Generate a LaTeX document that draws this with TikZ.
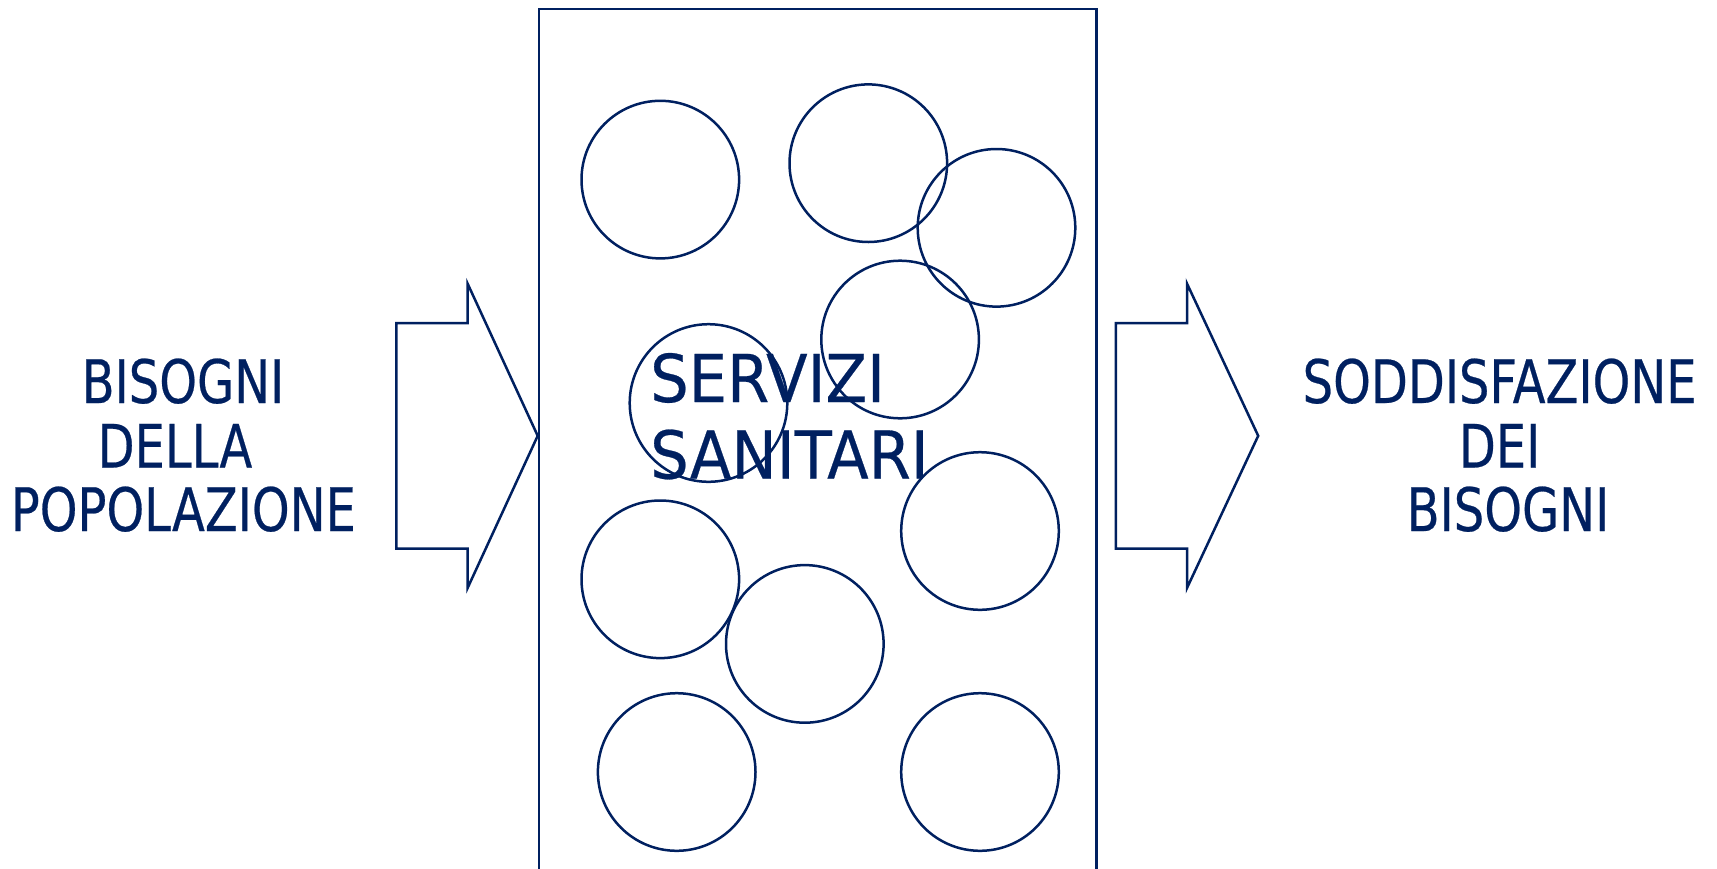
\documentclass[tikz,border=0pt]{standalone}
\usepackage{fontspec}
\setmainfont{DejaVu Sans}[FakeStretch=0.8, FakeBold=0.4]
\newfontfamily\bigfont{DejaVu Sans}[FakeStretch=0.92, FakeBold=0.4]
\definecolor{navy}{HTML}{002060}
\tikzset{
  outline/.style={draw=navy, line width=2.5pt},
  bubble/.style={outline, circle, minimum size=157.6pt, inner sep=0pt},
  sidetext/.style={text=navy, font=\fontsize{60}{64}\selectfont, anchor=base, inner sep=0pt},
  maintext/.style={text=navy, font=\bigfont\fontsize{66}{76}\selectfont, anchor=base west, inner sep=0pt},
}
\begin{document}
\begin{tikzpicture}[x=1pt,y=-1pt]
\useasboundingbox (0,0) rectangle (1717,868);
\clip (0,0) rectangle (1717,868);
% main box (open at bottom, runs off page)
\node[outline, minimum width=557.3pt, minimum height=900pt, inner sep=0pt, anchor=north west] (box) at (537.7,7.7) {};
% circles
\node[bubble] (c1) at (660.3,179.6) {};
\node[bubble] (c2) at (868.3,163.2) {};
\node[bubble] (c3) at (996.5,227.8) {};
\node[bubble] (c4) at (900.1,339.5) {};
\node[bubble] (c5) at (708.5,403) {};
\node[bubble] (c6) at (980,531) {};
\node[bubble] (c7) at (660.3,579.3) {};
\node[bubble] (c8) at (804.8,643.9) {};
\node[bubble] (c9) at (676.7,772) {};
\node[bubble] (c10) at (980,772) {};
% left arrow
\draw[outline, line join=miter] (396.4,323) coordinate (la1) -- (467.6,323) -- (467.6,283.6) -- (537.7,435.8) coordinate (ltip) -- (467.6,588) -- (467.6,548.6) -- (396.4,548.6) -- cycle;
% right arrow
\draw[outline, line join=miter] (1115.8,323) coordinate (ra1) -- (1187,323) -- (1187,283.6) -- (1258.2,435.8) coordinate (rtip) -- (1187,588) -- (1187,548.6) -- (1115.8,548.6) -- cycle;
% texts
\node[maintext] (s1) at (650,402) {SERVIZI};
\node[maintext] (s2) at (650,478.5) {SANITARI};
\node[sidetext] (l1) at (183,403) {BISOGNI};
\node[sidetext] (l2) at (175,467.6) {DELLA};
\node[sidetext] (l3) at (183.4,531) {POPOLAZIONE};
\node[sidetext] (r1) at (1499.6,403) {SODDISFAZIONE};
\node[sidetext] (r2) at (1499.6,467.6) {DEI};
\node[sidetext] (r3) at (1508,531) {BISOGNI};
\end{tikzpicture}
\end{document}
